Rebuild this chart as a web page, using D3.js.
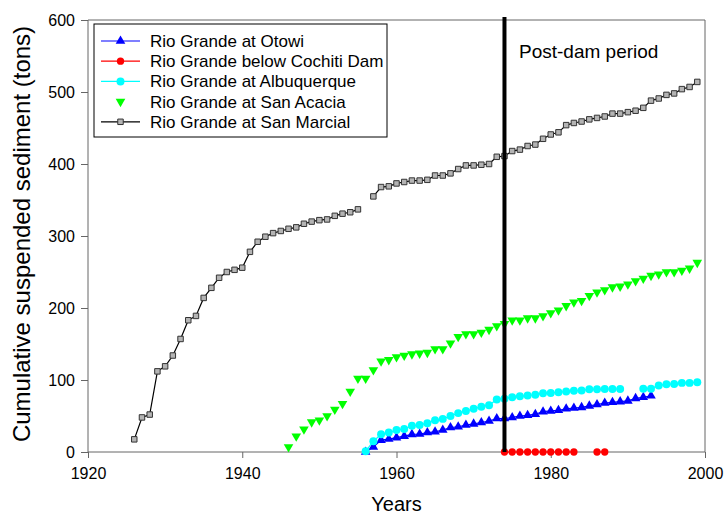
<!DOCTYPE html>
<html>
<head>
<meta charset="utf-8">
<script src="https://cdn.jsdelivr.net/npm/d3@7"></script>
<style>
  html, body { margin: 0; padding: 0; background: #fff; }
  svg { display: block; font-family: "Liberation Sans", Arial, sans-serif; }
</style>
</head>
<body>
<svg id="chart" width="725" height="514"></svg>
<script>
// Cumulative suspended sediment at Rio Grande gauging stations (tons)
const xTicks = [1920, 1940, 1960, 1980, 2000];
const yTicks = [0, 100, 200, 300, 400, 500, 600];
const damYear = 1974;

const otowiYears = d3.range(1956, 1994);
const otowiValues = [0, 7, 16.5, 18, 20, 22, 24.5, 25, 27, 28, 30.5, 34, 35, 37.5, 39, 41, 43, 46.5, 46.5,
  48, 50, 51, 52.5, 56, 57, 58, 60, 61, 62, 64, 66, 68, 69, 70, 71, 74.5, 76, 78];

const cochitiYears = d3.range(1974, 1988);
const cochitiValues = [0, 0, 0, 0, 0, 0, 0, 0, 0, 0, null, null, 0, 0];

const albuquerqueYears = d3.range(1956, 2000);
const albuquerqueValues = [1, 15, 24.5, 27, 30.5, 32, 36.5, 37.5, 40, 44, 46, 50, 54, 57, 60, 63, 65, 73, 74,
  76, 77.5, 78.5, 79.5, 81.5, 82, 83, 84, 85, 85.5, 87, 87, 87.5, 87.5, 87.5, null, null, 88, 88, 92.5,
  94, 94.5, 96, 96, 97];

const sanAcaciaYears = d3.range(1946, 2000);
const sanAcaciaValues = [7, 22, 31.5, 41.5, 44, 50, 59, 67, 84, 102, 102, 114, 126, 128, 132, 134, 136, 137,
  138, 143, 143, 151, 160, 164, 164, 166, 170, 175, 178, 183, 183, 186, 186, 189, 193, 197, 203, 208,
  210, 217, 222, 225, 229, 230, 233, 237.5, 241, 245, 247, 250, 250, 252, 255, 263];

const sanMarcialYears = d3.range(1926, 2000);
const sanMarcialValues = [17.6, 48, 52, 112, 119, 134, 157, 183, 189, 214, 228, 242, 250, 253, 256, 278, 292,
  299, 304, 307, 310, 312, 317, 320, 322, 323, 328, 331, 333, 337, null, 355, 368, 369, 373, 375, 377,
  377, 378, 384, 384, 387, 393, 398, 398, 399, 400, 410, 411, 418, 420, 425, 427, 435, 441, 444, 454,
  457, 459, 462, 464, 466, 470, 470, 472, 474, 478, 488, 491, 496, 498, 504, 507, 514];

const seriesNames = [
  "Rio Grande at Otowi",
  "Rio Grande below Cochiti Dam",
  "Rio Grande at Albuquerque",
  "Rio Grande at San Acacia",
  "Rio Grande at San Marcial"
];

const zip = (ys, vs) => ys.map((y, i) => ({ year: y, value: vs[i] }));

const series = [
  { name: seriesNames[0], data: zip(otowiYears, otowiValues), line: "#0000ff", fill: "#0000ff", stroke: "none", symbol: d3.symbolTriangle, size: 40, drawLine: true },
  { name: seriesNames[1], data: zip(cochitiYears, cochitiValues), line: "#ff0000", fill: "#ff0000", stroke: "none", symbol: d3.symbolCircle, size: 42, drawLine: true },
  { name: seriesNames[2], data: zip(albuquerqueYears, albuquerqueValues), line: "#00ffff", fill: "#00ffff", stroke: "none", symbol: d3.symbolCircle, size: 50, drawLine: true },
  { name: seriesNames[3], data: zip(sanAcaciaYears, sanAcaciaValues), line: "none", fill: "#00ff00", stroke: "none", symbol: d3.symbolTriangle, size: 40, rotate: 180, drawLine: false },
  { name: seriesNames[4], data: zip(sanMarcialYears, sanMarcialValues), line: "#000000", fill: "#b4b4b4", stroke: "#333333", symbol: d3.symbolSquare, size: 30, drawLine: true }
];

const svg = d3.select("#chart");
const x = d3.scaleLinear().domain([1920, 2000]).range([88, 705]);
const y = d3.scaleLinear().domain([0, 600]).range([452, 20]);
const axisColor = "#666";

// Frame: top and right borders
svg.append("line").attr("x1", x(1920)).attr("x2", x(2000)).attr("y1", y(600)).attr("y2", y(600))
  .attr("stroke", axisColor).attr("stroke-width", 1);
svg.append("line").attr("x1", x(2000)).attr("x2", x(2000)).attr("y1", y(600)).attr("y2", y(0))
  .attr("stroke", axisColor).attr("stroke-width", 1);

// Axes
const xAxis = svg.append("g").attr("transform", `translate(0,${y(0)})`)
  .call(d3.axisBottom(x).tickValues(xTicks).tickFormat(d3.format("d")).tickSize(6).tickPadding(10));
const yAxis = svg.append("g").attr("transform", `translate(${x(1920)},0)`)
  .call(d3.axisLeft(y).tickValues(yTicks).tickSize(7).tickPadding(6));
[xAxis, yAxis].forEach(g => {
  g.select(".domain").attr("stroke", axisColor).attr("stroke-width", 1);
  g.selectAll(".tick line").attr("stroke", axisColor);
  g.selectAll(".tick text").attr("fill", "#000").attr("font-size", 16)
    .attr("font-family", "'Liberation Sans', Arial, sans-serif");
});
yAxis.select(".domain").attr("d", `M0,${y(600)}V${y(0)}`);
xAxis.select(".domain").attr("d", `M${x(1920)},0H${x(2000)}`);

// Axis titles
svg.append("text").attr("x", (x(1920) + x(2000)) / 2).attr("y", 511)
  .attr("text-anchor", "middle").attr("font-size", 20).text("Years");
svg.append("text").attr("transform", `translate(30,${(y(0) + y(600)) / 2 - 2}) rotate(-90)`)
  .attr("text-anchor", "middle").attr("font-size", 24)
  .text("Cumulative suspended sediment (tons)");

// Series lines and markers
const lineGen = d3.line().defined(d => d.value != null).x(d => x(d.year)).y(d => y(d.value));
series.forEach(s => {
  const g = svg.append("g");
  if (s.drawLine) {
    g.append("path").datum(s.data).attr("d", lineGen)
      .attr("fill", "none").attr("stroke", s.line).attr("stroke-width", 1.2);
  }
  g.selectAll("path.mk").data(s.data.filter(d => d.value != null)).join("path")
    .attr("class", "mk")
    .attr("d", d3.symbol().type(s.symbol).size(s.size))
    .attr("transform", d => `translate(${x(d.year)},${y(d.value)})${s.rotate ? ` rotate(${s.rotate})` : ""}`)
    .attr("fill", s.fill).attr("stroke", s.stroke).attr("stroke-width", 1);
});

// Dam closure marker
svg.append("line").attr("x1", x(damYear)).attr("x2", x(damYear)).attr("y1", 17).attr("y2", y(0))
  .attr("stroke", "#000").attr("stroke-width", 4);
svg.append("text").attr("x", 519).attr("y", 58).attr("font-size", 19).text("Post-dam period");

// Legend
const legend = svg.append("g");
legend.append("rect").attr("x", 94).attr("y", 24).attr("width", 293).attr("height", 113)
  .attr("fill", "#fff").attr("stroke", "#000").attr("stroke-width", 1);
series.forEach((s, i) => {
  const cy = 41 + i * 20.2;
  const row = legend.append("g");
  if (s.drawLine) {
    row.append("line").attr("x1", 101).attr("x2", 140).attr("y1", cy).attr("y2", cy)
      .attr("stroke", s.line).attr("stroke-width", 1.2);
  }
  row.append("path").attr("d", d3.symbol().type(s.symbol).size(s.size))
    .attr("transform", `translate(120.5,${cy})${s.rotate ? ` rotate(${s.rotate})` : ""}`)
    .attr("fill", s.fill).attr("stroke", s.stroke).attr("stroke-width", 1);
  row.append("text").attr("x", 150).attr("y", cy).attr("dy", "0.35em")
    .attr("font-size", 17).text(s.name);
});
</script>
</body>
</html>
